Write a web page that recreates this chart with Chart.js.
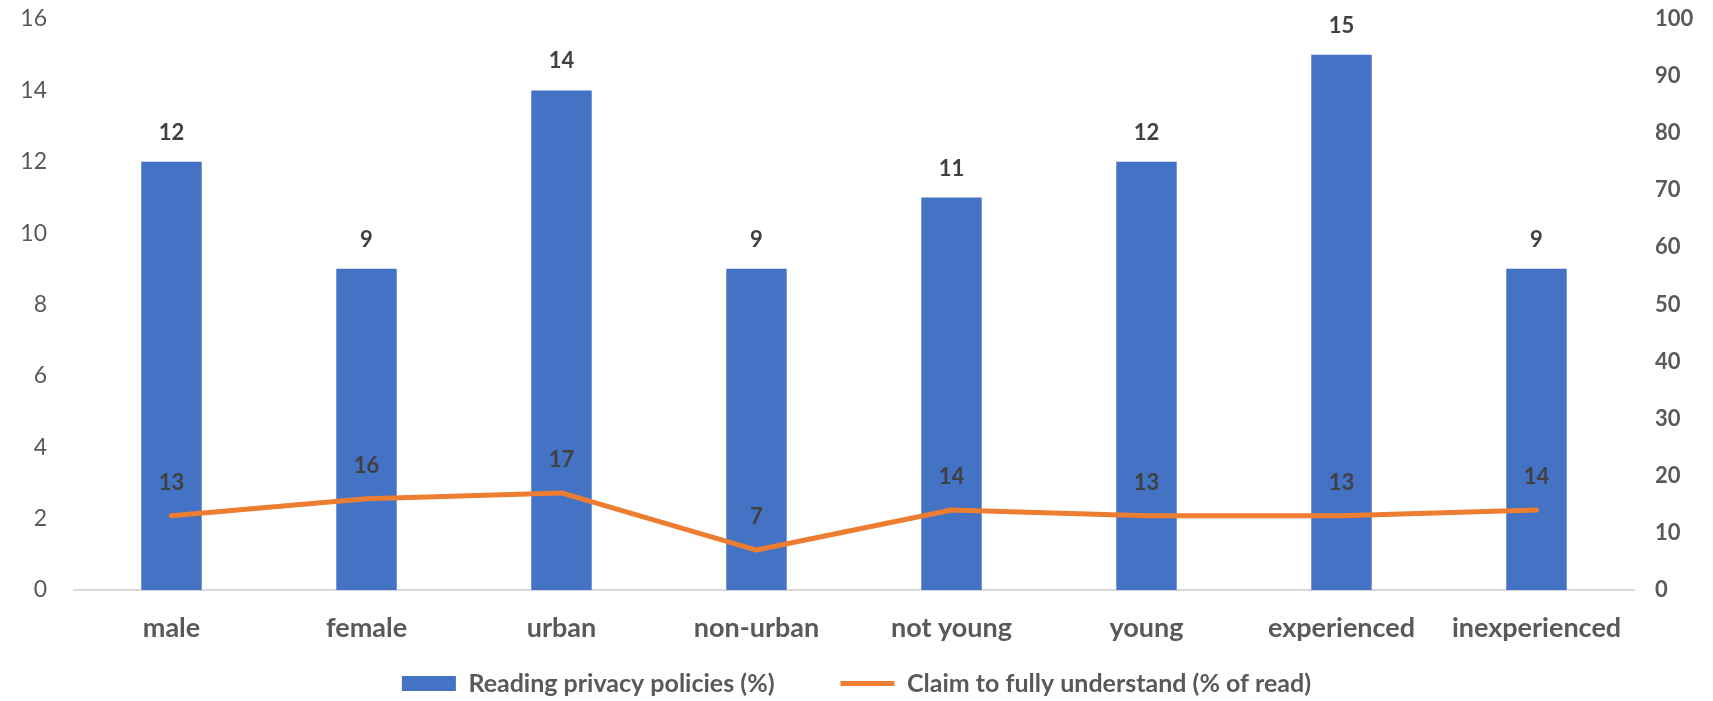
<!doctype html>
<html lang="en">
  <head>
    <meta charset="UTF-8" />
    <title>Privacy policies</title>
    <script src="https://cdn.jsdelivr.net/npm/chart.js@4.4.0/dist/chart.umd.min.js"></script>
    <style>
      html, body { margin: 0; padding: 0; background: #fff; }
      .wrap { width: 1713px; height: 701px; }
    </style>
  </head>
  <body>
    <div class="wrap"><canvas id="chart" width="1713" height="701"></canvas></div>
    <script>
    const categories = ['male', 'female', 'urban', 'non-urban', 'not young', 'young', 'experienced', 'inexperienced'];
    const readingPct = [12, 9, 14, 9, 11, 12, 15, 9];
    const understandPct = [13, 16, 17, 7, 14, 13, 13, 14];
    const leftTicks = [0, 2, 4, 6, 8, 10, 12, 14, 16];
    const rightTicks = [0, 10, 20, 30, 40, 50, 60, 70, 80, 90, 100];

    const FONT = 'Lato';
    const GREY = '#595959';

    // value labels above bars and line points
    const valueLabels = {
        id: 'valueLabels',
        afterDatasetsDraw(chart) {
            const ctx = chart.ctx;
            ctx.save();
            ctx.font = '700 22px ' + FONT;
            ctx.fillStyle = '#404040';
            ctx.textAlign = 'center';
            ctx.textBaseline = 'middle';
            chart.data.datasets.forEach((ds, i) => {
                const meta = chart.getDatasetMeta(i);
                const off = ds.type === 'line' ? 33 : 29;
                meta.data.forEach((el, j) => {
                    ctx.fillText(String(ds.data[j]), el.x, el.y - off);
                });
            });
            ctx.restore();
        }
    };

    // keep the value axes from pushing the plot down with their label padding
    function yAxisFit(width) {
        return scale => {
            scale.width = width;
            scale.paddingTop = 0;
        };
    }

    new Chart(document.getElementById('chart'), {
        data: {
            labels: categories,
            datasets: [{
                type: 'line',
                label: 'Claim to fully understand (% of read)',
                data: understandPct,
                yAxisID: 'y2',
                borderColor: '#ED7D31',
                backgroundColor: '#ED7D31',
                borderWidth: 5,
                borderCapStyle: 'round',
                borderJoinStyle: 'round',
                tension: 0,
                pointRadius: 0,
                pointStyle: 'line',
                order: 0
            }, {
                type: 'bar',
                label: 'Reading privacy policies (%)',
                data: readingPct,
                yAxisID: 'y',
                backgroundColor: '#4472C4',
                borderWidth: 0,
                barPercentage: 0.31,
                categoryPercentage: 1,
                pointStyle: 'rect',
                order: 1
            }]
        },
        options: {
            responsive: false,
            animation: false,
            layout: { padding: { top: 19, bottom: -5, left: 0, right: 0 } },
            plugins: {
                tooltip: { enabled: false },
                legend: {
                    position: 'bottom',
                    reverse: true,
                    labels: {
                        usePointStyle: true,
                        pointStyleWidth: 54,
                        boxWidth: 54,
                        boxHeight: 15,
                        padding: 66,
                        color: GREY,
                        font: { family: FONT, size: 25, weight: 'bold' }
                    }
                }
            },
            scales: {
                x: {
                    grid: { display: false, drawTicks: false },
                    border: { display: true, color: '#D9D9D9', width: 2 },
                    ticks: {
                        color: GREY,
                        padding: 22,
                        font: { family: FONT, size: 27, weight: 'bold' },
                        maxRotation: 0
                    },
                    afterFit(scale) {
                        // short axis box so the legend row can sit right under it;
                        // the labels are allowed to spill below the box
                        scale.height = 15;
                        scale._computeLabelArea = () => undefined;
                    }
                },
                y: {
                    position: 'left',
                    min: 0, max: 16,
                    grid: { display: false, drawTicks: false },
                    border: { display: false },
                    afterBuildTicks(scale) { scale.ticks = leftTicks.map(v => ({ value: v })); },
                    ticks: {
                        color: GREY,
                        padding: 27,
                        font: { family: FONT, size: 23 }
                    },
                    afterFit: yAxisFit(74)
                },
                y2: {
                    position: 'right',
                    min: 0, max: 100,
                    grid: { display: false, drawTicks: false },
                    border: { display: false },
                    afterBuildTicks(scale) { scale.ticks = rightTicks.map(v => ({ value: v })); },
                    ticks: {
                        color: GREY,
                        padding: 21,
                        font: { family: FONT, size: 22, weight: 'bold' }
                    },
                    afterFit: yAxisFit(79)
                }
            }
        },
        plugins: [valueLabels]
    });
    </script>
  </body>
</html>
